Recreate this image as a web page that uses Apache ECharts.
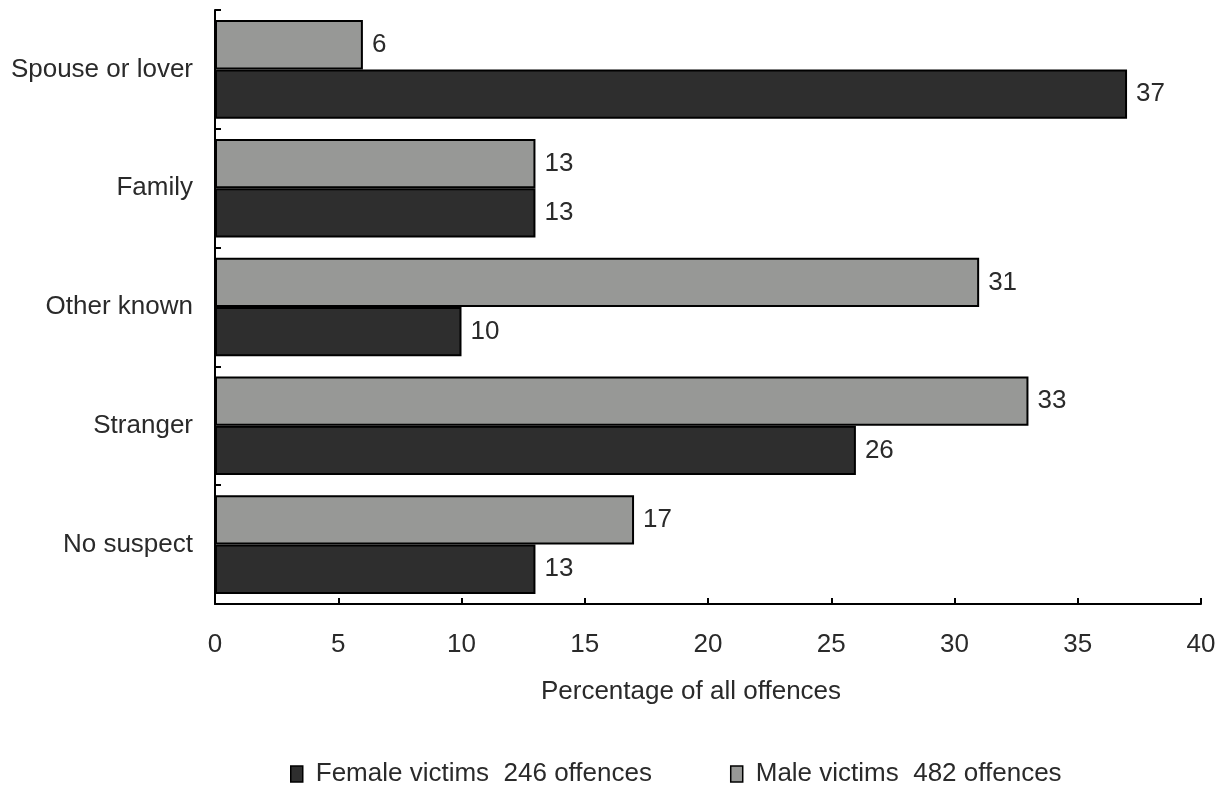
<!DOCTYPE html>
<html><head><meta charset="utf-8">
<script src="https://cdn.jsdelivr.net/npm/echarts@6/dist/echarts.min.js"></script>
<style>html,body{margin:0;padding:0;background:#fff}#c{width:1231px;height:786px}</style>
</head><body><div id="c"></div>
<script>
const categories = ["Spouse or lover", "Family", "Other known", "Stranger", "No suspect"];
const maleValues = [6, 13, 31, 33, 17];
const femaleValues = [37, 13, 10, 26, 13];
const maleName = "Male victims  482 offences";
const femaleName = "Female victims  246 offences";
const xTicks = [0, 5, 10, 15, 20, 25, 30, 35, 40];

const font = "Liberation Sans, Arial, sans-serif";
const fs = 26;
const chart = echarts.init(document.getElementById('c'));
const labelCfg = {show: true, position: 'right', distance: 9, color: '#2a2a2a', fontSize: fs, fontFamily: font};
chart.setOption({
  animation: false,
  grid: {left: 215, right: 30, top: 10, bottom: 182},
  legend: {
    data: [femaleName, maleName], top: 756, left: 285, itemGap: 78,
    itemWidth: 12, itemHeight: 16, icon: 'rect',
    textStyle: {fontSize: fs, color: '#2a2a2a', fontFamily: font, padding: [0, 0, 0, 8]},
    itemStyle: {borderColor: '#000', borderWidth: 1.5}
  },
  xAxis: {
    type: 'value', min: xTicks[0], max: xTicks[xTicks.length - 1], interval: 5,
    name: 'Percentage of all offences', nameLocation: 'middle', nameGap: 75,
    nameTextStyle: {fontSize: fs, color: '#2a2a2a', fontFamily: font, padding: [0, 34, 0, 0]},
    axisLine: {show: true, lineStyle: {color: '#000', width: 2}},
    axisTick: {show: true, inside: true, length: 6, lineStyle: {color: '#000', width: 2}},
    axisLabel: {margin: 28, fontSize: fs, color: '#2a2a2a', fontFamily: font},
    splitLine: {show: false}
  },
  yAxis: {
    type: 'category', data: categories, inverse: true,
    axisLine: {show: true, lineStyle: {color: '#000', width: 2}},
    axisTick: {show: true, inside: true, length: 6, lineStyle: {color: '#000', width: 2}},
    axisLabel: {margin: 22, fontSize: fs, color: '#2a2a2a', fontFamily: font}
  },
  series: [
    {name: maleName, type: 'bar', data: maleValues, barGap: '0%', barCategoryGap: '17%',
     itemStyle: {color: '#979896', borderColor: '#000', borderWidth: 2}, label: labelCfg},
    {name: femaleName, type: 'bar', data: femaleValues, barGap: '0%', barCategoryGap: '17%',
     itemStyle: {color: '#2e2e2e', borderColor: '#000', borderWidth: 2}, label: labelCfg}
  ]
});
</script></body></html>
